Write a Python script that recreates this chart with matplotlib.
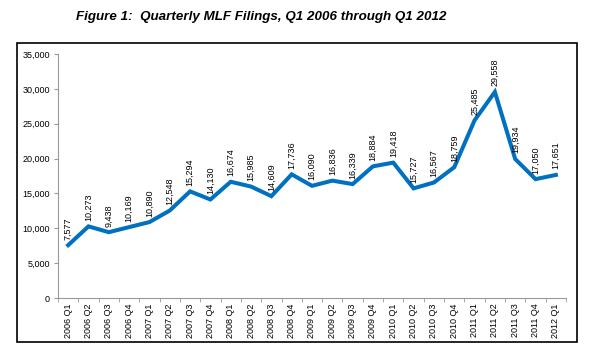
import numpy as np
import matplotlib.pyplot as plt
from matplotlib.patches import Rectangle

quarters = ["2006 Q1", "2006 Q2", "2006 Q3", "2006 Q4",
            "2007 Q1", "2007 Q2", "2007 Q3", "2007 Q4",
            "2008 Q1", "2008 Q2", "2008 Q3", "2008 Q4",
            "2009 Q1", "2009 Q2", "2009 Q3", "2009 Q4",
            "2010 Q1", "2010 Q2", "2010 Q3", "2010 Q4",
            "2011 Q1", "2011 Q2", "2011 Q3", "2011 Q4",
            "2012 Q1"]
filings = [7577, 10273, 9438, 10169, 10890, 12548, 15294, 14130,
           16674, 15985, 14609, 17736, 16090, 16836, 16339, 18884,
           19418, 15727, 16567, 18759, 25485, 29558, 19934, 17050,
           17651]
yticks = [0, 5000, 10000, 15000, 20000, 25000, 30000, 35000]

plt.rcParams['font.family'] = ['Liberation Sans', 'DejaVu Sans']

fig = plt.figure(figsize=(5.98, 3.56), dpi=100)
fig.patch.set_facecolor('white')

# outer frame around the chart
fig.patches.append(Rectangle((17/598, 1 - 342/356), 560/598, 299/356,
                             transform=fig.transFigure, fill=False,
                             edgecolor='black', linewidth=1.2))

fig.text(261/598, 1 - 17/356, "Figure 1:  Quarterly MLF Filings, Q1 2006 through Q1 2012",
         ha='center', va='center', fontsize=9.6, fontweight='bold',
         fontstyle='italic')

ax = fig.add_axes([58/598, 58/356, 508/598, 244/356])
x = np.arange(len(quarters))
ax.plot(x, filings, color='#0070c0', linewidth=2.9, solid_joinstyle='miter')

for xi, v in zip(x, filings):
    ax.annotate(f"{v:,}", (xi, v), xytext=(0, 4), textcoords='offset points',
                rotation=90, ha='center', va='bottom', fontsize=6.5)

ax.set_xlim(-0.5, len(quarters) - 0.5)
ax.set_ylim(0, 35000)
ax.set_yticks(yticks)
ax.set_yticklabels([f"{t:,}" for t in yticks], fontsize=6.5)
ax.set_xticks(x)
ax.set_xticklabels(quarters, rotation=90, fontsize=6.5)
ax.set_xticks(np.arange(len(quarters) + 1) - 0.5, minor=True)
ax.tick_params(axis='x', which='major', length=0, pad=4)
ax.tick_params(axis='x', which='minor', length=3, color='#999999')
ax.tick_params(axis='y', length=3, color='#999999', pad=3)

for s in ['top', 'right']:
    ax.spines[s].set_visible(False)
for s in ['left', 'bottom']:
    ax.spines[s].set_color('#999999')
    ax.spines[s].set_linewidth(0.8)

plt.savefig("out.png", dpi=100)
